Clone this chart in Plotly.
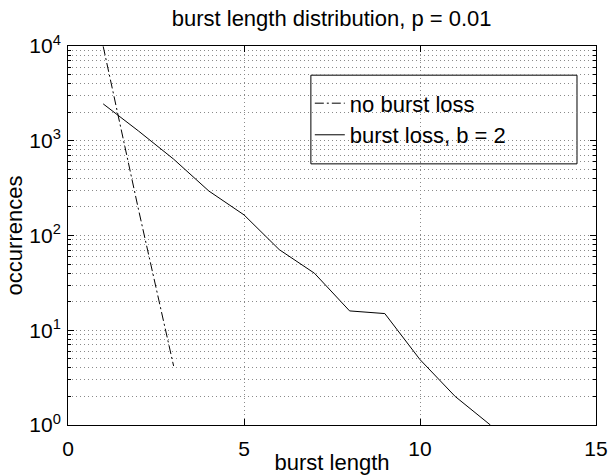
import plotly.graph_objects as go

# ---- data ----
burst_len_noloss = [1, 2, 3]
occ_noloss = [9900, 190, 4.2]

burst_len_loss = [1, 2, 3, 4, 5, 6, 7, 8, 9, 10, 11, 12]
occ_loss = [2450, 1270, 640, 295, 165, 71, 40, 16, 15, 4.9, 2, 1]

x_ticks = [0, 5, 10, 15]
y_tickvals = [1, 10, 100, 1000, 10000]
y_ticktext = ["10<sup>0</sup>", "10<sup>1</sup>", "10<sup>2</sup>", "10<sup>3</sup>", "10<sup>4</sup>"]

FONT = "Liberation Sans, Arial, Helvetica, sans-serif"

fig = go.Figure()
fig.add_trace(go.Scatter(
    x=burst_len_noloss, y=occ_noloss, mode="lines", name="no burst loss",
    line=dict(color="black", width=1, dash="9px,3px,2px,3px"),
))
fig.add_trace(go.Scatter(
    x=burst_len_loss, y=occ_loss, mode="lines", name="burst loss, b = 2",
    line=dict(color="black", width=1),
))

GRIDC = "#8a8a8a"
grid_kw = dict(showgrid=True, gridcolor=GRIDC, gridwidth=1, griddash="1px,3px")

fig.update_xaxes(
    range=[0, 15], tickvals=x_ticks, ticks="inside", ticklen=6, tickcolor="black",
    showline=True, linecolor="black", linewidth=1, mirror="ticks",
    zeroline=False, ticklabelstandoff=5, automargin=False,
    tickfont=dict(family=FONT, size=21, color="black"),
    title=dict(text="burst length", font=dict(family=FONT, size=22, color="black"), standoff=3),
    **grid_kw,
)
fig.update_yaxes(
    type="log", range=[0, 4], tickvals=y_tickvals, ticktext=y_ticktext,
    ticks="inside", ticklen=6, tickcolor="black",
    showline=True, linecolor="black", linewidth=1, mirror="ticks",
    zeroline=False, ticklabelstandoff=2, automargin=False,
    tickfont=dict(family=FONT, size=21, color="black"),
    title=dict(text="occurrences", font=dict(family=FONT, size=22, color="black"), standoff=0),
    minor=dict(dtick="D1", ticks="inside", ticklen=3, tickcolor="black",
               showgrid=True, gridcolor=GRIDC, gridwidth=1, griddash="1px,3px"),
    **grid_kw,
)

fig.update_layout(
    width=613, height=475,
    margin=dict(l=68, r=17, t=46, b=50, autoexpand=False),
    paper_bgcolor="white", plot_bgcolor="white",
    title=dict(text="burst length distribution, p = 0.01", x=0.541, xanchor="center",
               y=1 - 18 / 475, yanchor="middle",
               font=dict(family=FONT, size=22, color="black")),
    showlegend=True,
    legend=dict(x=0.458, y=0.904, xanchor="left", yanchor="top",
                bgcolor="rgba(0,0,0,0)", borderwidth=0,
                font=dict(family=FONT, size=22, color="black"),
                itemwidth=30),
    shapes=[dict(type="rect", xref="paper", yref="paper",
                 x0=0.460, x1=0.964, y0=0.689, y1=0.923,
                 line=dict(color="black", width=1), fillcolor="white", layer="below")],
)

fig.write_html("out.html")
